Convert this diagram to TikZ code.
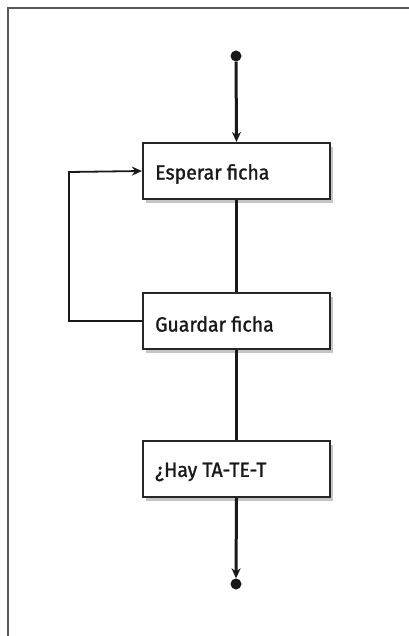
\documentclass[tikz,border=0pt]{standalone}
\usepackage{fontspec}
\setmainfont[FakeStretch=0.95,FakeBold=1.2]{Fira Sans}
\usetikzlibrary{arrows.meta,shadows,positioning}
\begin{document}
\begin{tikzpicture}[x=1pt,y=-1pt,
  stepbox/.style={draw=black!85,line width=2.2pt,fill=white,minimum width=187pt,minimum height=56pt,inner sep=0pt,
    drop shadow={shadow xshift=3pt,shadow yshift=-4pt,opacity=0.45,fill=black!50}},
  lbl/.style={anchor=west,font=\fontsize{20.5}{22}\selectfont,text=black!90,inner sep=0pt},
  mainline/.style={line width=3pt,draw=black!90},
  loopline/.style={line width=1.8pt,draw=black!90},
  tip/.style={-{Stealth[length=10pt,width=9pt]}},
  dot/.style={circle,fill=black!90,minimum size=11pt,inner sep=0pt}]
\useasboundingbox (0,0) rectangle (408,636);
\fill[white] (0,0) rectangle (408,636);
\draw[line width=1.8pt,draw=black!65] (8,637) -- (8,8) -- (409,8);
\node[dot] (start) at (236,56) {};
\node[dot] (end) at (236,584) {};
\node[stepbox] (esp) at (236.5,171) {};
\node[stepbox] (gua) at (236.5,321) {};
\node[stepbox] (hay) at (236.5,469) {};
\node[lbl] (tesp) at (155,174) {Esperar ficha};
\node[lbl] (tgua) at (155,324) {Guardar ficha};
\node[lbl] (thay) at (155,472) {¿Hay TA-TE-T};
\coordinate (lb) at (69,321);
\coordinate (lt) at (69,172);
\draw[mainline,tip] (start) -- (esp.north);
\draw[mainline] (esp) -- (gua);
\draw[mainline] (gua) -- (hay);
\draw[mainline,tip] (hay.south) -- (end.north);
\draw[loopline,tip] (gua.west) -- (lb) -- (lt) -- (esp.west);
\end{tikzpicture}
\end{document}
